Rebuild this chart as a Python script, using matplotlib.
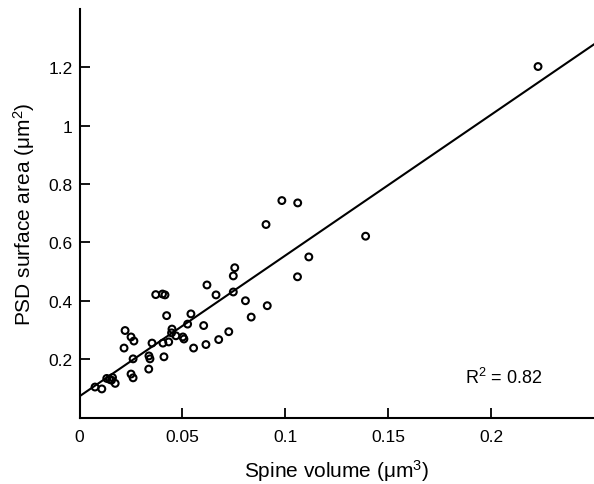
import matplotlib
matplotlib.use('Agg')
import matplotlib.pyplot as plt
import numpy as np

plt.rcParams['font.family'] = ['Liberation Sans', 'DejaVu Sans']
plt.rcParams['mathtext.default'] = 'regular'

# spine volume (um^3) and PSD surface area (um^2)
volume = [0.2228, 0.139, 0.0983, 0.106, 0.0906, 0.1114, 0.1059, 0.0912,
          0.0754, 0.0747, 0.0747, 0.0806, 0.0834, 0.0619, 0.0663, 0.0725,
          0.0676, 0.0614, 0.0603, 0.0554, 0.0541, 0.0525, 0.0502, 0.0507,
          0.0468, 0.0449, 0.0447, 0.0423, 0.0433, 0.0405, 0.041, 0.037,
          0.0403, 0.0415, 0.0352, 0.0337, 0.0342, 0.0336, 0.0221, 0.025,
          0.0264, 0.0216, 0.026, 0.025, 0.026, 0.0145, 0.016, 0.0173,
          0.0075, 0.0108, 0.0132, 0.0155]
psd_area = [1.202, 0.621, 0.743, 0.735, 0.661, 0.550, 0.482, 0.383,
            0.513, 0.485, 0.430, 0.400, 0.344, 0.454, 0.420, 0.294,
            0.267, 0.250, 0.315, 0.238, 0.355, 0.320, 0.276, 0.269,
            0.280, 0.303, 0.290, 0.349, 0.259, 0.255, 0.208, 0.421,
            0.423, 0.420, 0.255, 0.211, 0.201, 0.166, 0.298, 0.276,
            0.262, 0.238, 0.201, 0.149, 0.136, 0.131, 0.137, 0.117,
            0.1045, 0.098, 0.134, 0.128]

# regression line
intercept = 0.073
slope = 4.82
r2 = 0.82

fig = plt.figure(figsize=(5.94, 4.85), dpi=100)
ax = fig.add_axes([0.134, 0.137, 0.866, 0.843])

ax.scatter(volume, psd_area, s=24, facecolors='none', edgecolors='black',
           linewidths=1.5, zorder=3)

xs = np.array([0, 0.25])
ax.plot(xs, intercept + slope * xs, color='black', lw=1.5)

ax.set_xlim(0, 0.25)
ax.set_ylim(0, 1.4)
ax.set_xticks([0, 0.05, 0.1, 0.15, 0.2])
ax.set_xticklabels(['0', '0.05', '0.1', '0.15', '0.2'])
ax.set_yticks([0.2, 0.4, 0.6, 0.8, 1.0, 1.2])
ax.set_yticklabels(['0.2', '0.4', '0.6', '0.8', '1', '1.2'])

for s in ['top', 'right']:
    ax.spines[s].set_visible(False)
for s in ['left', 'bottom']:
    ax.spines[s].set_linewidth(1.5)

ax.tick_params(direction='in', length=7, width=1.3, labelsize=12.5)
ax.tick_params(axis='x', pad=8)
ax.tick_params(axis='y', pad=5)

ax.set_xlabel('Spine volume (\u03bcm$^3$)', fontsize=15, labelpad=10)
ax.set_ylabel('PSD surface area (\u03bcm$^2$)', fontsize=15, labelpad=8)

ax.text(0.1875, 0.138, 'R$^2$ = %.2f' % r2, fontsize=13, va='center')

fig.savefig('out.png', dpi=100)
